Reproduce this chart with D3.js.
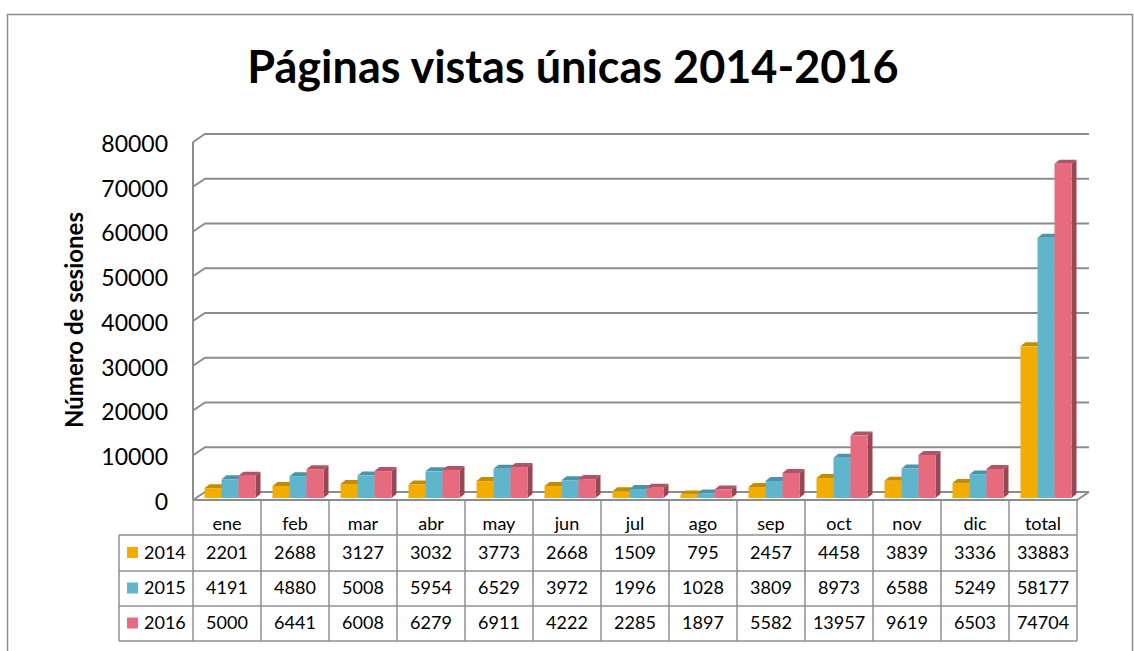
<!DOCTYPE html>
<html>
<head>
<meta charset="utf-8">
<script src="https://d3js.org/d3.v7.min.js"></script>
<style>
  body { margin: 0; background: #fff; }
  svg text { font-family: Lato, "Open Sans", sans-serif; fill: #000; }
</style>
</head>
<body>
<div id="viz"></div>
<script>
// data
const categories = ['ene', 'feb', 'mar', 'abr', 'may', 'jun', 'jul', 'ago', 'sep', 'oct', 'nov', 'dic', 'total'];
const seriesNames = ['2014', '2015', '2016'];
const values2014 = [2201, 2688, 3127, 3032, 3773, 2668, 1509, 795, 2457, 4458, 3839, 3336, 33883];
const values2015 = [4191, 4880, 5008, 5954, 6529, 3972, 1996, 1028, 3809, 8973, 6588, 5249, 58177];
const values2016 = [5000, 6441, 6008, 6279, 6911, 4222, 2285, 1897, 5582, 13957, 9619, 6503, 74704];
const yTicks = [0, 10000, 20000, 30000, 40000, 50000, 60000, 70000, 80000];

const seriesValues = [values2014, values2015, values2016];
// front face, top, side
const colors = {
  '2014': ['#F2AD00', '#C38C00', '#B07E00'],
  '2015': ['#5EB5CC', '#4894A9', '#3F8395'],
  '2016': ['#E66B7E', '#B25363', '#994655']
};

const width = 1134, height = 651;
const wall = { dx: 12, dy: -8 };   // depth of the chart box
const barDepth = { dx: 3, dy: -2 }; // where the bar fronts sit
const barSide = { dx: 5, dy: -4 };  // thickness of a bar

const svg = d3.select('#viz').append('svg')
  .attr('width', width)
  .attr('height', height);

// outer frame
svg.append('rect')
  .attr('x', 7.5).attr('y', 14.5)
  .attr('width', 1125).attr('height', 660)
  .attr('fill', 'none')
  .attr('stroke', '#8c8c8c')
  .attr('stroke-width', 1.5);

// title
svg.append('text')
  .attr('x', 573).attr('y', 83)
  .attr('text-anchor', 'middle')
  .style('font-size', '45px')
  .style('font-weight', 'bold')
  .text('Páginas vistas únicas 2014-2016');

const xScale = d3.scaleBand()
  .domain(categories)
  .range([193, 1077])
  .paddingInner(0).paddingOuter(0);

const x1 = d3.scaleBand()
  .domain(seriesNames)
  .range([0, xScale.bandwidth()])
  .paddingInner(0)
  .paddingOuter(0.5);

const yScale = d3.scaleLinear()
  .domain([0, 80000])
  .range([500, 142]);

const left = xScale.range()[0], right = xScale.range()[1];

// gridlines with the little diagonal at the left wall
const grid = svg.append('g').attr('class', 'grid');
yTicks.forEach(t => {
  const y = yScale(t);
  grid.append('path')
    .attr('d', `M${left},${y} L${left + wall.dx},${y + wall.dy} L${right + wall.dx},${y + wall.dy}`)
    .attr('fill', 'none')
    .attr('stroke', '#8c8c8c')
    .attr('stroke-width', 2);
});
// left wall edge
grid.append('line')
  .attr('x1', left).attr('x2', left)
  .attr('y1', yScale(80000)).attr('y2', yScale(0))
  .attr('stroke', '#8c8c8c').attr('stroke-width', 2);
// floor front edge + right diagonal
grid.append('path')
  .attr('d', `M${left},${yScale(0)} L${right},${yScale(0)} L${right + wall.dx},${yScale(0) + wall.dy}`)
  .attr('fill', 'none')
  .attr('stroke', '#8c8c8c').attr('stroke-width', 2);

// y tick labels
svg.append('g').selectAll('text')
  .data(yTicks)
  .enter().append('text')
  .attr('x', 168)
  .attr('y', d => yScale(d) + 4)
  .attr('text-anchor', 'end')
  .attr('dominant-baseline', 'middle')
  .style('font-size', '23px')
  .text(d => d);

// y axis title
svg.append('text')
  .attr('transform', 'translate(83,320) rotate(-90)')
  .attr('text-anchor', 'middle')
  .style('font-size', '24px')
  .style('font-weight', 'bold')
  .text('Número de sesiones');

// 3D bars
const bars = svg.append('g').attr('class', 'bars');
categories.forEach((cat, ci) => {
  seriesNames.forEach((s, si) => {
    const v = seriesValues[si][ci];
    const x0 = xScale(cat) + x1(s) + barDepth.dx;
    const w = x1.bandwidth();
    const yTop = yScale(v) + barDepth.dy;
    const yBot = yScale(0) + barDepth.dy;
    const c = colors[s];
    const g = bars.append('g');
    g.append('polygon')
      .attr('points', [[x0 + w, yTop], [x0 + w + barSide.dx, yTop + barSide.dy],
        [x0 + w + barSide.dx, yBot + barSide.dy], [x0 + w, yBot]].join(' '))
      .attr('fill', c[2]);
    g.append('polygon')
      .attr('points', [[x0, yTop], [x0 + barSide.dx, yTop + barSide.dy],
        [x0 + w + barSide.dx, yTop + barSide.dy], [x0 + w, yTop]].join(' '))
      .attr('fill', c[1]);
    g.append('rect')
      .attr('x', x0).attr('y', yTop)
      .attr('width', w).attr('height', yBot - yTop)
      .attr('fill', c[0]);
  });
});

// data table
const rowTops = [500, 535, 571, 606, 641];
const legendLeft = 119;
const table = svg.append('g').attr('class', 'table');
const lineColor = '#8f8f8f';

// horizontal lines
rowTops.slice(1).forEach(y => {
  table.append('line')
    .attr('x1', legendLeft).attr('x2', right)
    .attr('y1', y).attr('y2', y)
    .attr('stroke', lineColor).attr('stroke-width', 1.5);
});
// vertical lines
categories.forEach(cat => {
  table.append('line')
    .attr('x1', xScale(cat)).attr('x2', xScale(cat))
    .attr('y1', 500).attr('y2', 641)
    .attr('stroke', lineColor).attr('stroke-width', 1.5);
});
table.append('line')
  .attr('x1', right).attr('x2', right)
  .attr('y1', 500).attr('y2', 641)
  .attr('stroke', lineColor).attr('stroke-width', 1.5);
table.append('line')
  .attr('x1', legendLeft).attr('x2', legendLeft)
  .attr('y1', 535).attr('y2', 641)
  .attr('stroke', lineColor).attr('stroke-width', 1.5);

// header row
table.selectAll('.cat')
  .data(categories)
  .enter().append('text')
  .attr('class', 'cat')
  .attr('x', d => xScale(d) + xScale.bandwidth() / 2)
  .attr('y', 530)
  .attr('text-anchor', 'middle')
  .style('font-size', '18px')
  .text(d => d);

// value rows
seriesNames.forEach((s, si) => {
  const yMid = (rowTops[si + 1] + rowTops[si + 2]) / 2;
  table.append('rect')
    .attr('x', 127).attr('y', yMid - 6)
    .attr('width', 11).attr('height', 11)
    .attr('fill', colors[s][0]);
  table.append('text')
    .attr('x', 144).attr('y', yMid + 1)
    .attr('dominant-baseline', 'middle')
    .style('font-size', '18px')
    .text(s);
  table.selectAll('.v' + s)
    .data(seriesValues[si])
    .enter().append('text')
    .attr('class', 'v' + s)
    .attr('x', (d, i) => xScale(categories[i]) + xScale.bandwidth() / 2)
    .attr('y', yMid + 1)
    .attr('text-anchor', 'middle')
    .attr('dominant-baseline', 'middle')
    .style('font-size', '18px')
    .text(d => d);
});
</script>
</body>
</html>
